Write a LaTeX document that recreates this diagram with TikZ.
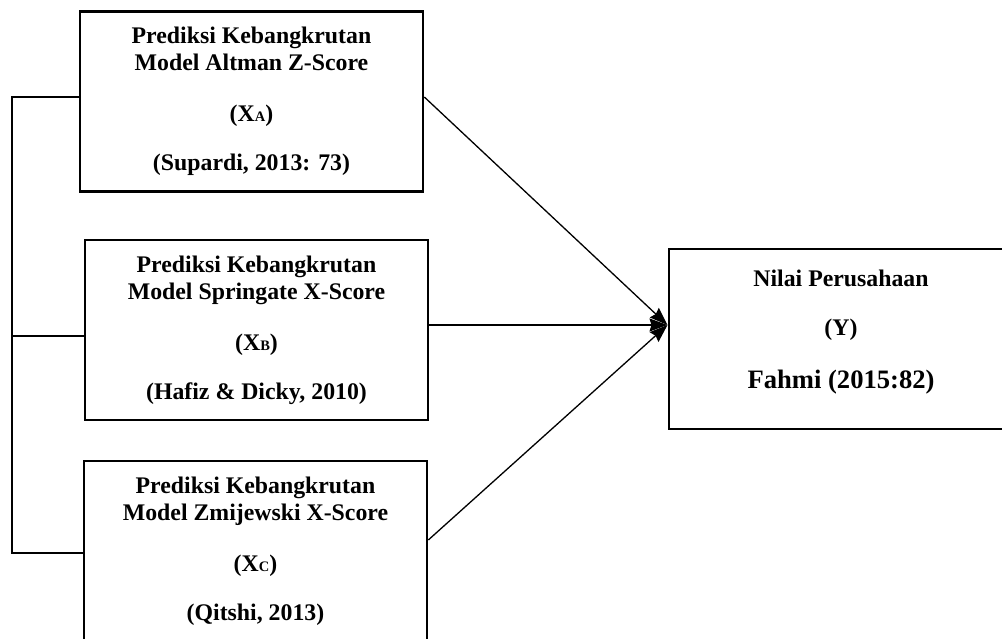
\documentclass[tikz,border=0pt]{standalone}
\usepackage{fontspec}
\setmainfont{Liberation Serif}
\usetikzlibrary{arrows.meta,calc}
\newcommand\mainfnt{\fontsize{23.8pt}{27pt}\selectfont\bfseries}
\newcommand\bigfnt{\fontsize{26.6pt}{30pt}\selectfont\bfseries}
\newcommand\subfnt{\fontsize{14.5pt}{16pt}\selectfont}
\begin{document}
\begin{tikzpicture}[x=1pt,y=-1pt,
  box/.style={draw=black, line width=2.6pt, minimum width=343pt, minimum height=180pt,
              inner sep=0pt, align=center, font=\mainfnt},
  txt/.style={inner sep=0pt, align=center, font=\mainfnt},
  link/.style={draw=black, line width=2pt},
  arr/.style={draw=black, line width=1.3pt, -{Stealth[length=18pt,width=13pt,inset=2pt]}}]
\path[use as bounding box] (0,0) rectangle (1002,639);
\clip (0,0) rectangle (1002,639);

\node[box] (A) at (251.5,101.5) {Prediksi Kebangkrutan\\Model Altman Z-Score\\[24pt](X{\subfnt A})\\[22pt](Supardi, 2013: 73)};
\node[box] (B) at (256.5,330) {Prediksi Kebangkrutan\\Model Springate X-Score\\[24pt](X{\subfnt B})\\[22pt](Hafiz \& Dicky, 2010)};
\node[box] (C) at (255.5,551) {Prediksi Kebangkrutan\\Model Zmijewski X-Score\\[24pt](X{\subfnt C})\\[22pt](Qitshi, 2013)};
\node[box, minimum width=344pt] (Y) at (841,339) {};
\node[txt] (Yt) at (841,332) {Nilai Perusahaan\\[22pt](Y)\\[26pt]{\bigfnt Fahmi (2015:82)}};

\coordinate (ta) at (12,97);
\coordinate (tb) at (12,336);
\coordinate (tc) at (12,553);
\draw[link] ([yshift=4.5pt]A.west) -- (ta) -- (tc) -- ([yshift=-2pt]C.west);
\draw[link] (tb) -- ([yshift=-6pt]B.west);

\coordinate (tip) at (667.5,325);
\draw[arr] ([yshift=4.5pt]A.east) -- (tip);
\draw[arr] ([yshift=5pt]B.east) -- (tip);
\draw[arr] ([yshift=11pt]C.east) -- (tip);
\end{tikzpicture}
\end{document}
